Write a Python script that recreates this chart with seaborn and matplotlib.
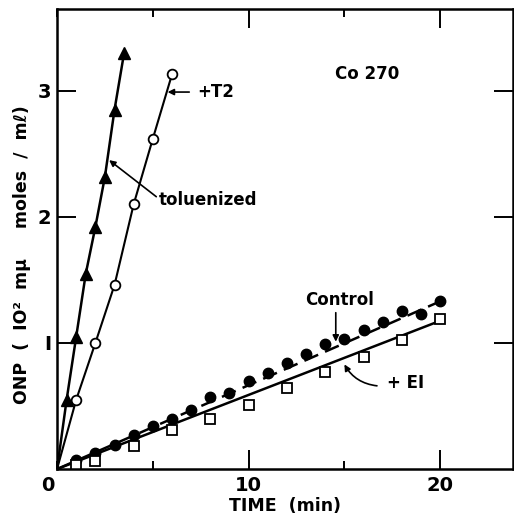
import numpy as np
import pandas as pd
import matplotlib
matplotlib.use("Agg")
import matplotlib.pyplot as plt
import seaborn as sns
from matplotlib.ticker import MultipleLocator

# toluenized (filled triangles)
tol_t = [0, 0.5, 1.0, 1.5, 2.0, 2.5, 3.0, 3.5]
tol_y = [0, 0.55, 1.05, 1.55, 1.92, 2.32, 2.85, 3.30]

# toluenized + T2 (open circles)
t2_t = [0, 1, 2, 3, 4, 5, 6]
t2_y = [0, 0.55, 1.0, 1.46, 2.10, 2.62, 3.13]

# Control (filled circles) and its drawn straight line
ctl_t = list(range(1, 21))
ctl_y = [0.07, 0.13, 0.19, 0.27, 0.34, 0.40, 0.47, 0.57, 0.60, 0.70,
         0.76, 0.84, 0.91, 0.99, 1.03, 1.10, 1.17, 1.25, 1.23, 1.33]
ctl_line_t = [0, 20]
ctl_line_y = [0, 1.33]

# + E1 (open squares) and its drawn straight line
e1_t = [1, 2, 4, 6, 8, 10, 12, 14, 16, 18, 20]
e1_y = [0.03, 0.06, 0.18, 0.31, 0.40, 0.51, 0.64, 0.77, 0.89, 1.02, 1.19]
e1_line_t = [0, 19.9]
e1_line_y = [0, 1.17]

x_ticks = [10, 20]
y_ticks = [1, 2, 3]
y_ticklabels = ["I", "2", "3"]

sns.set_style("ticks")
plt.rcParams["font.family"] = ["DejaVu Sans"]
plt.rcParams["font.weight"] = "bold"
for key in ["text.color", "axes.labelcolor", "xtick.color", "ytick.color",
            "axes.edgecolor"]:
    plt.rcParams[key] = "black"

fig = plt.figure(figsize=(5.14, 5.20), dpi=100)
ax = fig.add_axes([0.111, 0.098, 0.887, 0.885])

lw = 1.8
# curves through the origin
sns.lineplot(x=tol_t, y=tol_y, ax=ax, color="black", lw=lw, sort=False)
sns.lineplot(x=t2_t, y=t2_y, ax=ax, color="black", lw=lw - 0.3, sort=False)

# straight lines
ax.plot(ctl_line_t, ctl_line_y, color="black", lw=lw, dashes=(6, 3))
line_df = pd.DataFrame({"t": e1_line_t, "y": e1_line_y})
sns.lineplot(data=line_df, x="t", y="y", ax=ax, color="black", lw=lw)

# markers
ax.plot(tol_t[1:], tol_y[1:], ls="none", marker="^", ms=8.5, color="black")
ax.plot(t2_t[1:], t2_y[1:], ls="none", marker="o", ms=7, mfc="white",
        mec="black", mew=1.3)
ax.plot(ctl_t, ctl_y, ls="none", marker="o", ms=7.5, color="black")
ax.plot(e1_t, e1_y, ls="none", marker="s", ms=7, mfc="white",
        mec="black", mew=1.3)

ax.set_xlim(0, 23.8)
ax.set_ylim(0, 3.65)
ax.set_xticks(x_ticks)
ax.set_yticks(y_ticks)
ax.xaxis.set_minor_locator(MultipleLocator(5))
ax.set_xticklabels([str(v) for v in x_ticks], fontsize=14, fontweight="bold")
ax.set_yticklabels(y_ticklabels, fontsize=14, fontweight="bold")
ax.tick_params(which="major", direction="in", length=13.5, width=1.4,
               top=True, right=True, pad=5)
ax.tick_params(which="minor", direction="in", length=6, width=1.4,
               top=True, right=True)
ax.tick_params(axis="y", pad=4)
for s in ax.spines.values():
    s.set_linewidth(1.8)

ax.annotate("0", xy=(0, 0), xytext=(-7, -5), textcoords="offset points",
            ha="center", va="top", fontsize=14, fontweight="bold")

ax.set_xlabel("TIME  (min)", fontsize=12.5, fontweight="bold")
ax.xaxis.set_label_coords(0.5, -0.06)
ax.set_ylabel("ONP  (  IO\u00b2  m\u03bc     moles  /  m\u2113)",
              fontsize=12.5, fontweight="bold", va="center")
ax.yaxis.set_label_coords(-0.077, 0.465)

tk = dict(fontsize=12, fontweight="bold", ha="center", va="center")
arr = dict(arrowstyle="-|>", lw=1.2, color="black", mutation_scale=9,
           shrinkA=0, shrinkB=0)

ax.text(16.2, 3.13, "Co 270", **tk)
ax.annotate("", xy=(5.77, 2.99), xytext=(6.9, 2.99), arrowprops=arr)
ax.text(8.3, 2.99, "+T2", **tk)
ax.annotate("", xy=(2.72, 2.45), xytext=(5.18, 2.16), arrowprops=arr)
ax.text(7.9, 2.13, "toluenized", **tk)
ax.text(14.76, 1.34, "Control", **tk)
ax.annotate("", xy=(14.55, 1.01), xytext=(14.55, 1.24), arrowprops=arr)
ax.text(18.2, 0.68, "+ EI", **tk)
ax.annotate("", xy=(15.0, 0.83), xytext=(16.7, 0.66),
            arrowprops=dict(arr, connectionstyle="arc3,rad=-0.25"))

fig.savefig("out.png", dpi=100)
